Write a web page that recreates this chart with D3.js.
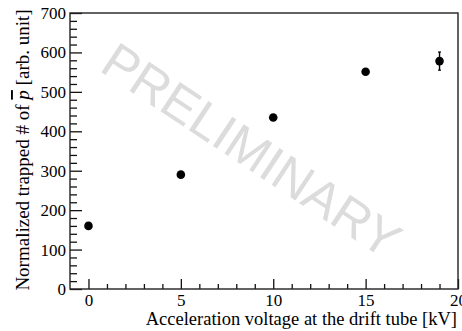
<!DOCTYPE html>
<html><head><meta charset="utf-8">
<script src="https://cdn.jsdelivr.net/npm/d3@7"></script>
<style>
html,body{margin:0;padding:0;background:#fff;}
svg{display:block;}
.serif{font-family:"Liberation Serif","DejaVu Serif","Times New Roman",Times,serif !important;}
</style></head>
<body><svg id="c" width="462" height="331"></svg>
<script>
const voltage = [0, 5, 10, 15, 19];
const trapped = [160, 290, 435, 551, 578];
const trappedErr = [0, 0, 0, 0, 23];
const xMajorTicks = [0, 5, 10, 15, 20];
const yMajorTicks = [0, 100, 200, 300, 400, 500, 600, 700];
const xLabel = "Acceleration voltage at the drift tube [kV]";
const watermark = "PRELIMINARY";

const SERIF = "Liberation Serif";
const svg = d3.select("#c");
const x = d3.scaleLinear().domain([-1, 20]).range([70, 458]);
const y = d3.scaleLinear().domain([0, 700]).range([289, 13]);

const xMinor = d3.range(1, 20).filter(v => v % 5 !== 0);
const yMinor = d3.range(20, 700, 20).filter(v => v % 100 !== 0);

// watermark
svg.append("text")
  .attr("transform", "translate(98,70) rotate(33.5)")
  .attr("font-family", "Liberation Sans")
  .attr("font-size", 51)
  .attr("fill", "#dcdcdc")
  .text(watermark);

// axes
const gx = svg.append("g").attr("transform", `translate(0,${y(0)})`)
  .call(d3.axisBottom(x).tickValues(xMajorTicks).tickSize(-10).tickPadding(5).tickFormat(d3.format("d")));
const gxm = svg.append("g").attr("transform", `translate(0,${y(0)})`)
  .call(d3.axisBottom(x).tickValues(xMinor).tickSize(-5).tickFormat(""));
const gy = svg.append("g").attr("transform", `translate(${x(-1)},0)`)
  .call(d3.axisLeft(y).tickValues(yMajorTicks).tickSize(-12).tickPadding(4).tickFormat(d3.format("d")));
const gym = svg.append("g").attr("transform", `translate(${x(-1)},0)`)
  .call(d3.axisLeft(y).tickValues(yMinor).tickSize(-7).tickFormat(""));
[gx, gxm, gy, gym].forEach(g => {
  g.attr("font-family", SERIF);
  g.select(".domain").remove();
  g.selectAll("line").attr("stroke", "#111").attr("stroke-width", 1.3);
  g.selectAll("text").attr("font-size", 17).attr("fill", "#000")
    .attr("font-family", SERIF).attr("class", "serif");
});
gx.selectAll("text").attr("dy", "0.71em");

// frame
svg.append("rect")
  .attr("x", x(-1)).attr("y", y(700))
  .attr("width", x(20) - x(-1)).attr("height", y(0) - y(700))
  .attr("fill", "none").attr("stroke", "#222").attr("stroke-width", 1.4);

// error bars
const pts = voltage.map((v, i) => ({v, t: trapped[i], e: trappedErr[i]}));
const eb = svg.append("g");
pts.filter(d => d.e > 0).forEach(d => {
  eb.append("line").attr("x1", x(d.v)).attr("x2", x(d.v))
    .attr("y1", y(d.t - d.e)).attr("y2", y(d.t + d.e))
    .attr("stroke", "#000").attr("stroke-width", 1.4);
  [d.t - d.e, d.t + d.e].forEach(val => {
    eb.append("line").attr("x1", x(d.v) - 1.5).attr("x2", x(d.v) + 1.5)
      .attr("y1", y(val)).attr("y2", y(val))
      .attr("stroke", "#000").attr("stroke-width", 1.2);
  });
});

// points
svg.append("g").selectAll("circle").data(pts).join("circle")
  .attr("cx", d => x(d.v)).attr("cy", d => y(d.t)).attr("r", 4.3).attr("fill", "#000");

// axis titles
svg.append("text")
  .attr("class", "serif").attr("font-family", SERIF)
  .attr("x", 457).attr("y", 325)
  .attr("text-anchor", "end")
  .attr("font-size", 18.5)
  .text(xLabel);

const yl = svg.append("text")
  .attr("class", "serif").attr("font-family", SERIF)
  .attr("transform", "translate(29,150) rotate(-90)")
  .attr("text-anchor", "middle")
  .attr("font-size", 19);
yl.append("tspan").text("Normalized trapped # of ");
yl.append("tspan").attr("font-style", "italic").style("text-decoration", "overline").text("p");
yl.append("tspan").text(" [arb. unit]");
</script></body></html>
